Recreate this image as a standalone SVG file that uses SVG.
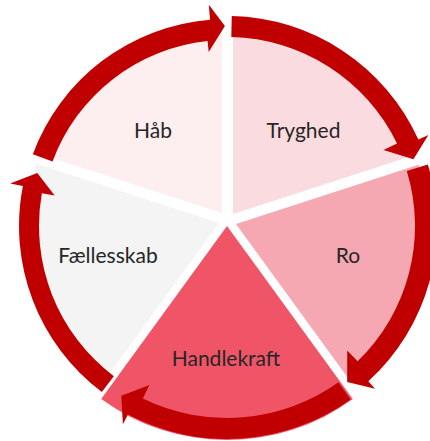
<svg xmlns="http://www.w3.org/2000/svg" width="430" height="441" viewBox="0 0 430 441">
<style>
.lbl{font-family:Lato,"Open Sans","Liberation Sans",sans-serif;font-size:21px;fill:#262626;text-anchor:middle}
.arr{fill:#c00000}
</style>
<rect width="430" height="441" fill="#ffffff"/>
<g id="hab">
<path d="M222 213 L222 21 A192 192 0 0 0 39.4 153.7 Z" fill="#fdeef0"/>
<text class="lbl" x="153" y="138">Håb</text>
</g>
<g id="tryghed">
<path d="M233 214 L233 22 A192 192 0 0 1 415.6 154.7 Z" fill="#fadbdf"/>
<text class="lbl" x="303.5" y="138">Tryghed</text>
</g>
<g id="ro">
<path d="M236 224 L418.6 164.7 A192 192 0 0 1 348.9 379.3 Z" fill="#f5a8b1"/>
<text class="lbl" x="348" y="263">Ro</text>
</g>
<g id="faellesskab">
<path d="M219 223 L106.1 378.3 A192 192 0 0 1 36.4 163.7 Z" fill="#f4f4f4"/>
<text class="lbl" x="108" y="263">Fællesskab</text>
</g>
<g id="handlekraft">
<path d="M227 226 L352.8 399.1 A214 214 0 0 1 101.2 399.1 Z" fill="#ef5567"/>
<text class="lbl" x="226" y="366">Handlekraft</text>
</g>
<g id="connectors">
<path class="arr" d="M32.85 154.19 A207 207 0 0 1 210.04 19.70 L208.81 4.75 L224.9 26.0 L208.71 51.96 L207.56 41.02 A186 186 0 0 0 52.55 161.48 Z"/>
<path class="arr" d="M231.76 16.05 A210 210 0 0 1 418.39 139.58 L428.42 135.06 L413.41 159.25 L383.52 150.00 L397.02 143.44 A189 189 0 0 0 231.29 37.05 Z"/>
<path class="arr" d="M427.82 164.60 A210 210 0 0 1 368.33 381.32 L375.06 388.72 L347.18 382.10 L347.18 350.45 L357.60 361.24 A188 188 0 0 0 406.78 171.03 Z"/>
<path class="arr" d="M350.69 399.41 A213 213 0 0 1 127.99 414.59 L122.88 424.33 L121.31 395.79 L149.41 385.09 L142.83 398.57 A192 192 0 0 0 338.49 382.31 Z"/>
<path class="arr" d="M101.82 392.12 A208 208 0 0 1 22.89 185.96 L10.14 183.45 L37.26 173.02 L54.66 195.61 L41.86 193.35 A188 188 0 0 0 113.86 376.14 Z"/>
</g>
</svg>
